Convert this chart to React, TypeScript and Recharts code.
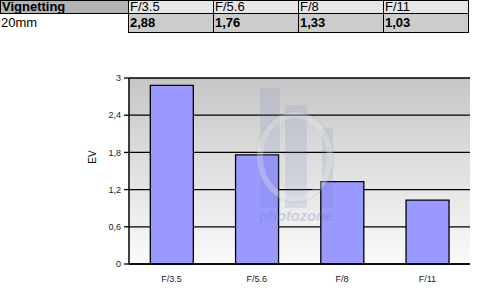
import { Bar, BarChart, CartesianGrid, XAxis, YAxis } from 'recharts';

const apertures = ['F/3.5', 'F/5.6', 'F/8', 'F/11'];
const vignetting = [2.88, 1.76, 1.33, 1.03];
const yTicks = [0, 0.6, 1.2, 1.8, 2.4, 3];
const edgeTicks = [0, 1, 2, 3, 4];
const focalLength = '20mm';

const chartData = apertures.map((a, i) => ({ a, ev: vignetting[i] }));
const comma = (v: number) => String(v).replace('.', ',');

const font = '"Liberation Sans", Arial, sans-serif';

function Cell({ x, y, w, h, bg, bold, text, border = true }: any) {
  return (
    <div
      style={{
        position: 'absolute',
        left: x,
        top: y,
        width: w,
        height: h,
        boxSizing: 'border-box',
        background: bg,
        border: border ? '1px solid #000' : 'none',
        fontWeight: bold ? 700 : 400,
        fontSize: 13,
        lineHeight: `${h - 2}px`,
        paddingLeft: 1,
        overflow: 'hidden',
        whiteSpace: 'nowrap',
      }}
    >
      {text}
    </div>
  );
}

function DataTable() {
  const colX = [128, 213, 298, 383];
  const colW = 86;
  return (
    <div style={{ position: 'absolute', left: 0, top: 0, fontFamily: font, color: '#000' }}>
      <Cell x={0} y={0} w={129} h={14} bg="#b3b3b3" bold text="Vignetting" />
      <Cell x={0} y={14} w={129} h={19} bg="transparent" text={focalLength} border={false} />
      {apertures.map((a, i) => (
        <Cell key={a} x={colX[i]} y={0} w={colW} h={14} bg="#e6e6e6" text={a} />
      ))}
      {vignetting.map((v, i) => (
        <Cell key={i} x={colX[i]} y={13} w={colW} h={20} bg="#cccccc" bold text={v.toFixed(2).replace('.', ',')} />
      ))}
    </div>
  );
}

// faint photozone logo laid over the plot
function Watermark() {
  const c = 'rgba(110,130,180,0.16)';
  return (
    <div style={{ position: 'absolute', left: 0, top: 0, width: 482, height: 296, pointerEvents: 'none' }}>
      <div style={{ position: 'absolute', left: 260, top: 88, width: 20, height: 120, background: c }} />
      <div style={{ position: 'absolute', left: 285, top: 105, width: 22, height: 103, background: c }} />
      <div style={{ position: 'absolute', left: 322, top: 128, width: 11, height: 80, background: c }} />
      <div
        style={{
          position: 'absolute',
          left: 257,
          top: 112,
          width: 76,
          height: 90,
          borderRadius: '50%',
          border: '6px solid rgba(235,235,240,0.3)',
          boxShadow: '0 0 0 1px rgba(150,150,160,0.15)',
          boxSizing: 'border-box',
        }}
      />
      <div
        style={{
          position: 'absolute',
          left: 259,
          top: 207,
          fontFamily: font,
          fontStyle: 'italic',
          fontWeight: 700,
          fontSize: 15,
          letterSpacing: -0.2,
          color: 'rgba(110,130,190,0.3)',
        }}
      >
        photozone
      </div>
    </div>
  );
}

export default function App() {
  return (
    <div style={{ position: 'absolute', left: 0, top: 0, width: 482, height: 296, background: '#fff' }}>
      <BarChart
        width={482}
        height={296}
        data={chartData}
        margin={{ top: 78, right: 12, left: 0, bottom: 12 }}
        barCategoryGap="25%"
        style={{ position: 'absolute', left: 0, top: 0 }}
      >
        <defs>
          <linearGradient id="plotBg" x1="0" y1="0" x2="0" y2="1">
            <stop offset="0%" stopColor="#c6c6c6" />
            <stop offset="100%" stopColor="#fbfbfb" />
          </linearGradient>
        </defs>
        <CartesianGrid
          vertical={false}
          stroke="#000"
          strokeWidth={1.3}
          fill="url(#plotBg)"
          fillOpacity={1}
        />
        <XAxis
          xAxisId="edge"
          type="number"
          domain={[0, 4]}
          ticks={edgeTicks}
          height={0}
          tick={false}
          tickSize={5}
          axisLine={false}
          tickLine={{ stroke: '#000', strokeWidth: 1.3 }}
        />
        <XAxis
          dataKey="a"
          height={20}
          tickLine={false}
          tickSize={6}
          tickMargin={6}
          axisLine={{ stroke: '#000', strokeWidth: 1.5 }}
          tick={{ fontSize: 9, fill: '#1a1a2a', fontFamily: font }}
          interval={0}
        />
        <YAxis
          width={129}
          domain={[0, 3]}
          ticks={yTicks}
          tickFormatter={comma}
          tickSize={5}
          tickMargin={3}
          axisLine={{ stroke: '#000', strokeWidth: 1.5 }}
          tickLine={{ stroke: '#000', strokeWidth: 1.3 }}
          tick={{ fontSize: 9, fill: '#1a1a2a', fontFamily: font }}
          label={{
            value: 'EV',
            angle: -90,
            position: 'insideLeft',
            offset: 92,
            dy: -14,
            style: { fontSize: 10, fill: '#000', fontFamily: font, textAnchor: 'middle' },
          }}
        />
        <Bar dataKey="ev" fill="#9999ff" stroke="#000" strokeWidth={1.3} isAnimationActive={false} />
      </BarChart>
      <Watermark />
      <DataTable />
    </div>
  );
}
